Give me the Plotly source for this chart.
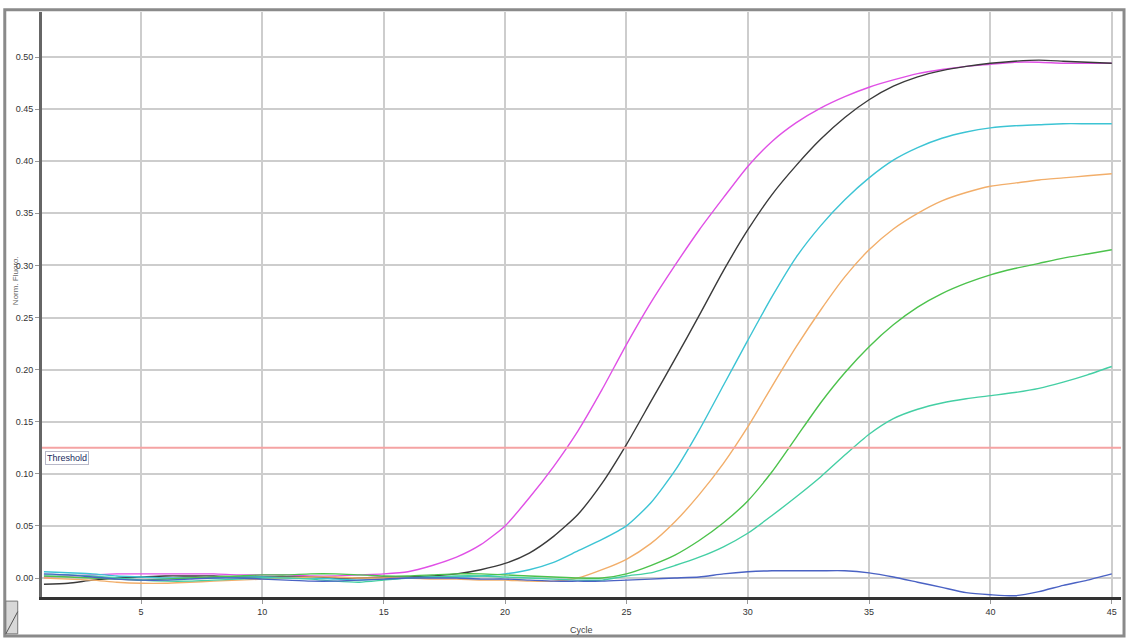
import plotly.graph_objects as go

cycles = list(range(1, 46))

magenta = [0.001, 0.002, 0.003, 0.004, 0.004, 0.004, 0.004, 0.004, 0.003, 0.003,
           0.003, 0.002, 0.002, 0.003, 0.004, 0.006, 0.012, 0.020, 0.032, 0.050,
           0.077, 0.107, 0.141, 0.181, 0.224, 0.264, 0.300, 0.334, 0.365, 0.395,
           0.419, 0.437, 0.451, 0.462, 0.471, 0.478, 0.484, 0.488, 0.491, 0.493,
           0.495, 0.495, 0.494, 0.494, 0.494]
black = [-0.006, -0.005, -0.002, 0.000, 0.001, 0.002, 0.002, 0.002, 0.001, 0.001,
         0.001, 0.001, 0.000, 0.000, 0.001, 0.001, 0.002, 0.004, 0.008, 0.014,
         0.024, 0.040, 0.061, 0.091, 0.128, 0.169, 0.210, 0.252, 0.295, 0.334,
         0.368, 0.396, 0.421, 0.442, 0.459, 0.472, 0.481, 0.487, 0.491, 0.494,
         0.496, 0.497, 0.496, 0.495, 0.494]
cyan = [0.006, 0.005, 0.004, 0.002, 0.001, 0.000, 0.000, 0.000, 0.001, 0.001,
        0.000, 0.000, -0.001, -0.002, -0.001, 0.000, 0.001, 0.001, 0.002, 0.004,
        0.008, 0.015, 0.026, 0.037, 0.050, 0.072, 0.103, 0.142, 0.185, 0.228,
        0.270, 0.308, 0.338, 0.363, 0.384, 0.401, 0.413, 0.422, 0.428, 0.432,
        0.434, 0.435, 0.436, 0.436, 0.436]
orange = [0.000, -0.001, -0.002, -0.004, -0.005, -0.005, -0.004, -0.003, -0.002, -0.001,
          0.000, 0.001, 0.001, 0.000, 0.000, 0.000, -0.001, -0.001, -0.002, -0.002,
          -0.003, -0.003, 0.000, 0.008, 0.018, 0.033, 0.054, 0.080, 0.110, 0.145,
          0.184, 0.222, 0.257, 0.289, 0.315, 0.335, 0.350, 0.362, 0.370, 0.376,
          0.379, 0.382, 0.384, 0.386, 0.388]
green = [0.002, 0.001, 0.000, -0.001, -0.002, -0.001, 0.000, 0.001, 0.002, 0.003,
         0.003, 0.004, 0.004, 0.003, 0.002, 0.002, 0.003, 0.004, 0.004, 0.003,
         0.002, 0.001, 0.000, 0.000, 0.004, 0.012, 0.022, 0.036, 0.053, 0.074,
         0.102, 0.135, 0.168, 0.197, 0.222, 0.243, 0.260, 0.273, 0.283, 0.291,
         0.297, 0.302, 0.307, 0.311, 0.315]
teal = [0.003, 0.003, 0.002, 0.000, -0.002, -0.003, -0.003, -0.002, -0.001, 0.000,
        0.000, -0.001, -0.003, -0.004, -0.002, 0.000, 0.001, 0.002, 0.002, 0.001,
        0.000, -0.001, -0.002, -0.002, 0.002, 0.005, 0.012, 0.020, 0.030, 0.043,
        0.060, 0.078, 0.097, 0.118, 0.138, 0.153, 0.162, 0.168, 0.172, 0.175,
        0.178, 0.182, 0.188, 0.195, 0.203]
blue = [0.004, 0.003, 0.001, -0.001, -0.002, -0.002, -0.001, 0.000, 0.000, -0.001,
        -0.002, -0.003, -0.003, -0.002, -0.001, 0.000, 0.000, 0.000, -0.001, -0.001,
        -0.002, -0.003, -0.003, -0.003, -0.002, -0.001, 0.000, 0.001, 0.004, 0.006,
        0.007, 0.007, 0.007, 0.007, 0.005, 0.001, -0.004, -0.009, -0.014, -0.016,
        -0.017, -0.013, -0.007, -0.002, 0.004]

threshold = 0.125
y_ticks = [0.00, 0.05, 0.10, 0.15, 0.20, 0.25, 0.30, 0.35, 0.40, 0.45, 0.50]
y_tick_labels = ["0.00", "0.05", "0.10", "0.15", "0.20", "0.25", "0.30", "0.35", "0.40", "0.45", "0.50"]
x_ticks = [5, 10, 15, 20, 25, 30, 35, 40, 45]

series = [
    ("Sample 1", magenta, "#e050e6"),
    ("Sample 2", black, "#3a3a3a"),
    ("Sample 3", cyan, "#3cc4d4"),
    ("Sample 4", orange, "#f2ae6a"),
    ("Sample 5", green, "#4cc24c"),
    ("Sample 6", teal, "#44cfa4"),
    ("Sample 7", blue, "#4a62c4"),
]

FONT = "Liberation Sans Narrow, Liberation Sans, Arial"

fig = go.Figure()
for name, vals, col in series:
    fig.add_trace(go.Scatter(x=cycles, y=vals, mode="lines", name=name,
                             line=dict(color=col, width=1.4, shape="spline", smoothing=0.6),
                             showlegend=False))

fig.add_hline(y=threshold, line=dict(color="#f5a3a3", width=2))

fig.add_annotation(xref="paper", yref="y", x=0.003, y=0.115, xanchor="left",
                   text="Threshold", showarrow=False,
                   font=dict(family=FONT, size=9, color="#1a2a60"),
                   bgcolor="white", bordercolor="#b8b8c8", borderwidth=1, borderpad=1)

fig.add_annotation(xref="paper", yref="paper", x=0.50, y=-0.057, yanchor="middle",
                   text="Cycle", showarrow=False,
                   font=dict(family=FONT, size=9, color="#444"))
fig.add_annotation(xref="paper", yref="paper", x=-0.031, y=0.54, textangle=-90,
                   text="Norm. Fluoro.", showarrow=False,
                   font=dict(family=FONT, size=8, color="#666"))

# outer frame
fig.add_shape(type="rect", xref="paper", yref="paper", x0=-0.0345, x1=1.0028, y0=-0.0665, y1=1.004,
              line=dict(color="#8a8a8a", width=3), layer="above")
# small corner icon
fig.add_shape(type="rect", xref="paper", yref="paper", x0=-0.0335, x1=-0.0225, y0=-0.063, y1=-0.007,
              line=dict(color="#777", width=1), fillcolor="#d8d8d8", layer="above")
fig.add_shape(type="line", xref="paper", yref="paper", x0=-0.0335, x1=-0.0225, y0=-0.063, y1=-0.025,
              line=dict(color="#555", width=1), layer="above")

fig.update_xaxes(range=[0.92, 45.38], tickvals=x_ticks, showgrid=True, gridcolor="#cdcdcd", gridwidth=2,
                 zeroline=False, showline=True, linecolor="#333", linewidth=3, mirror=False,
                 ticks="outside", ticklen=4, tickcolor="#999",
                 tickfont=dict(family=FONT, size=9, color="#333"))
fig.update_yaxes(range=[-0.0182, 0.5432], tickvals=y_ticks, ticktext=y_tick_labels,
                 showgrid=True, gridcolor="#cdcdcd", gridwidth=2,
                 zeroline=False, showline=True, linecolor="#666", linewidth=3,
                 ticks="outside", ticklen=4, tickcolor="#999",
                 tickfont=dict(family=FONT, size=9, color="#333"))

fig.update_layout(width=1128, height=638, margin=dict(l=42, r=7, t=12, b=41),
                  paper_bgcolor="white", plot_bgcolor="white")

fig.write_html("out.html", config={"displayModeBar": False},
               post_script="document.body.style.margin='0';document.body.style.overflow='hidden';")
